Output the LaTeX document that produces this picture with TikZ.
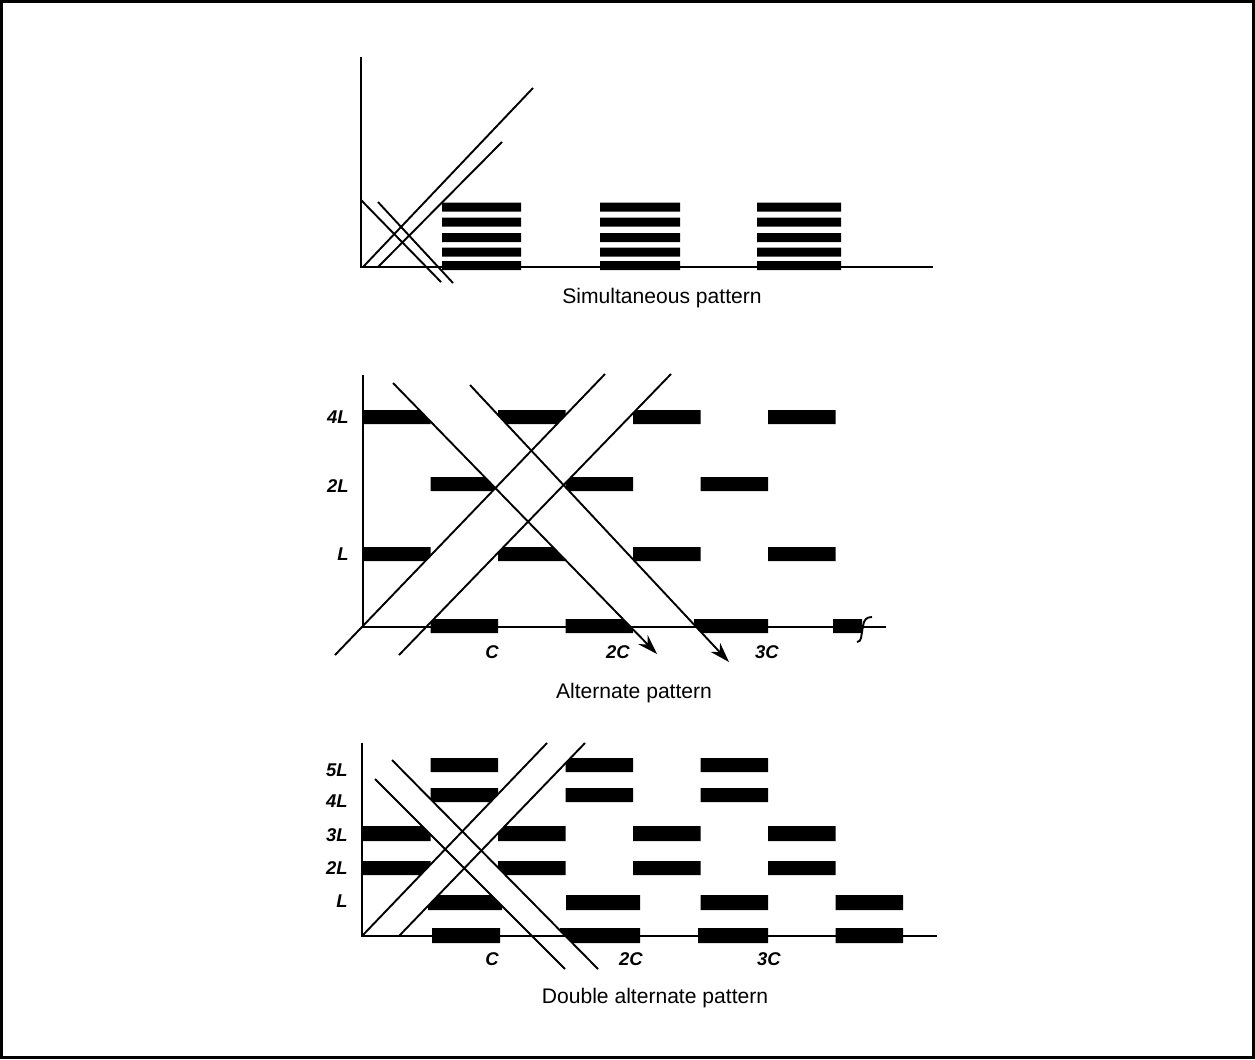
\documentclass[tikz,border=0pt]{standalone}
\usepackage{fontspec}
\setmainfont{Liberation Sans}
\usetikzlibrary{arrows.meta}

\begin{document}
\begin{tikzpicture}[x=0.2mm, y=-0.2mm,
		axis/.style={line width=0.4mm},
		diag/.style={line width=0.38mm},
		bar/.style={fill=black},
		band/.style={fill=white},
		lab/.style={font=\fontsize{10.5}{12}\selectfont\itshape\bfseries, inner sep=0pt},
		caption/.style={font=\fontsize{12}{14}\selectfont, inner sep=0pt}]
		\useasboundingbox (0,0) rectangle (1255,1059);
		\draw[line width=0.7mm] (1.5,1.5) rectangle (1253.5,1057.5);
		
		% simultaneous pattern
		\fill[bar] (442,202.5) rectangle (521,211.5) (600,202.5) rectangle (680,211.5) (757,202.5) rectangle (841,211.5);
		\fill[bar] (442,217.5) rectangle (521,226.5) (600,217.5) rectangle (680,226.5) (757,217.5) rectangle (841,226.5);
		\fill[bar] (442,233) rectangle (521,242) (600,233) rectangle (680,242) (757,233) rectangle (841,242);
		\fill[bar] (442,247.5) rectangle (521,256.5) (600,247.5) rectangle (680,256.5) (757,247.5) rectangle (841,256.5);
		\fill[bar] (442,261) rectangle (521,270) (600,261) rectangle (680,270) (757,261) rectangle (841,270);
		\draw[axis] (361,57) -- (361,267) -- (933,267);
		\draw[diag] (363,267) -- (533,88);
		\draw[diag] (378,267) -- (502,142);
		\draw[diag] (361,200) -- (441,282);
		\draw[diag] (378,202) -- (453,283);
		\node[caption] (capsim) at (662,298) {Simultaneous pattern};
		
		% alternate pattern
		\fill[bar] (363,410) rectangle (430.5,424) (498,410) rectangle (565.5,424) (633,410) rectangle (700.5,424) (768,410) rectangle (835.5,424);
		\fill[bar] (430.5,477) rectangle (498,491) (565.5,477) rectangle (633,491) (700.5,477) rectangle (768,491);
		\fill[bar] (363,547) rectangle (430.5,561) (498,547) rectangle (565.5,561) (633,547) rectangle (700.5,561) (768,547) rectangle (835.5,561);
		\fill[bar] (430.5,619) rectangle (498,633) (565.5,619) rectangle (633,633) (694,619) rectangle (768,633) (833,619) rectangle (862,633);
		\fill[band] (335,655) -- (605,374) -- (671,374) -- (399,655) -- cycle;
		\fill[band] (393,383) -- (657,654) -- (729,662) -- (470,385) -- cycle;
		\draw[axis] (363,375) -- (363,627) -- (886,627);
		\draw[line width=0.38mm] (872,617) .. controls (866,617) and (864,620) .. (863,626) -- (861,638) .. controls (860,641) .. (857,642);
		\draw[diag] (335,655) -- (605,374);
		\draw[diag] (399,655) -- (671,374);
		\draw[diag, -{Stealth[length=4mm, width=2.6mm]}] (393,383) -- (657,654);
		\draw[diag, -{Stealth[length=4mm, width=2.6mm]}] (470,385) -- (729,662);
		\node[lab, anchor=east] (m4l) at (349,417) {4L};
		\node[lab, anchor=east] (m2l) at (349,486) {2L};
		\node[lab, anchor=east] (m1l) at (349,554) {L};
		\node[lab] (m1c) at (492,652) {C};
		\node[lab] (m2c) at (618,652) {2C};
		\node[lab] (m3c) at (767,652) {3C};
		\node[caption] (capalt) at (634,693) {Alternate pattern};
		
		% double alternate pattern
		\fill[bar] (430.5,758) rectangle (498,772) (565.5,758) rectangle (633,772) (700.5,758) rectangle (768,772);
		\fill[bar] (430.5,788) rectangle (498,802) (565.5,788) rectangle (633,802) (700.5,788) rectangle (768,802);
		\fill[bar] (362,826) rectangle (430.5,841) (498,826) rectangle (565.5,841) (633,826) rectangle (700.5,841) (768,826) rectangle (835.5,841);
		\fill[bar] (362,861) rectangle (430.5,875) (498,861) rectangle (565.5,875) (633,861) rectangle (700.5,875) (768,861) rectangle (835.5,875);
		\fill[bar] (428,895) rectangle (502,910) (566,895) rectangle (640,910) (700.5,895) rectangle (768,910) (835.5,895) rectangle (903,910);
		\fill[bar] (432,928) rectangle (500,943) (560,928) rectangle (640,943) (698,928) rectangle (768,943) (835.5,928) rectangle (903,943);
		\fill[band] (362,936) -- (547,743) -- (585,743) -- (399,936) -- cycle;
		\fill[band] (375,779) -- (565,969) -- (598,969) -- (392,760) -- cycle;
		\draw[axis] (362,743) -- (362,936) -- (937,936);
		\draw[diag] (362,936) -- (547,743);
		\draw[diag] (399,936) -- (585,743);
		\draw[diag] (375,779) -- (565,969);
		\draw[diag] (392,760) -- (598,969);
		\node[lab, anchor=east] (d5l) at (348,770) {5L};
		\node[lab, anchor=east] (d4l) at (348,801) {4L};
		\node[lab, anchor=east] (d3l) at (348,835) {3L};
		\node[lab, anchor=east] (d2l) at (348,868) {2L};
		\node[lab, anchor=east] (d1l) at (348,901) {L};
		\node[lab] (d1c) at (492,959) {C};
		\node[lab] (d2c) at (631,959) {2C};
		\node[lab] (d3c) at (769,959) {3C};
		\node[caption] (capdbl) at (655,998) {Double alternate pattern};
	\end{tikzpicture}
\end{document}
